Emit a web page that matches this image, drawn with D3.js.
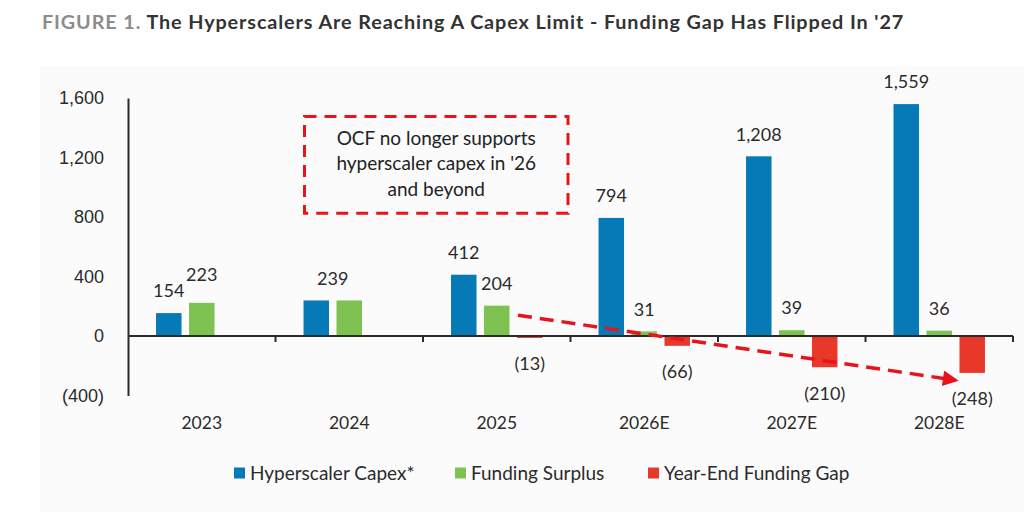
<!DOCTYPE html>
<html>
<head>
<meta charset="utf-8">
<script src="https://cdn.jsdelivr.net/npm/d3@7"></script>
<style>
	html, body { margin: 0; padding: 0; background: #fff; }
	svg { display: block; font-family: Lato, 'Noto Sans', sans-serif; }
</style>
</head>
<body>
<svg id="chart" width="1024" height="512"></svg>
<script>
const years = ['2023', '2024', '2025', '2026E', '2027E', '2028E'];
const seriesNames = ['Hyperscaler Capex*', 'Funding Surplus', 'Year-End Funding Gap'];
const capex = [154, 239, 412, 794, 1208, 1559];
const surplus = [223, 239, 204, 31, 39, 36];
const fundingGap = [null, null, -13, -66, -210, -248];
const yTicks = [-400, 0, 400, 800, 1200, 1600];
const colors = ['#0679b7', '#7ec352', '#e8382a'];
const calloutLines = ['OCF no longer supports', "hyperscaler capex in '26", 'and beyond'];

const svg = d3.select('#chart');
const width = 1024;
const height = 512;
const TEXT = '#2b2b2b';

const fmt = (v) => (v < 0 ? `(${d3.format(',')(-v)})` : d3.format(',')(v));

/** PANEL *******************************************************************/
svg.append('rect').attr('width', width).attr('height', height).attr('fill', '#fff');
svg.append('rect')
	.attr('x', 40).attr('y', 66)
	.attr('width', width - 40).attr('height', height - 66)
	.attr('fill', '#fbfbfb');

/** TITLE *******************************************************************/
const title = svg.append('text')
	.attr('x', 42).attr('y', 29)
	.attr('font-size', 19.8)
	.attr('font-weight', 700)
	.attr('letter-spacing', 0.9);
title.append('tspan').attr('fill', '#8c8c8c').text('FIGURE 1. ');
title.append('tspan').attr('fill', '#333').text("The Hyperscalers Are Reaching A Capex Limit - Funding Gap Has Flipped In '27");

/** SCALES ******************************************************************/
const x0 = d3.scaleBand(years, [128, 1013]);
const x1 = d3.scaleBand([0, 1, 2], [0, x0.bandwidth()])
	.paddingInner(0.227)
	.paddingOuter(0.85);
const y = d3.scaleLinear([-400, 1600], [395.5, 98]);

const rows = years.map((yr, i) => ({
	year: yr,
	values: [capex[i], surplus[i], fundingGap[i]]
}));

/** BARS ********************************************************************/
const groups = svg.append('g')
	.selectAll('g')
	.data(rows)
	.join('g')
	.attr('transform', (d) => `translate(${x0(d.year)},0)`);

groups.selectAll('rect')
	.data((d) => d.values.map((v, k) => ({ v, k })).filter((e) => e.v !== null))
	.join('rect')
	.attr('x', (e) => x1(e.k))
	.attr('width', x1.bandwidth())
	.attr('y', (e) => Math.min(y(e.v), y(0)))
	.attr('height', (e) => Math.abs(y(e.v) - y(0)))
	.attr('fill', (e) => colors[e.k]);

/** DATA LABELS *************************************************************/
groups.each(function (d) {
	const g = d3.select(this);
	const [c, s, f] = d.values;
	const labels = [];
	if (c === s) {
		// equal values share one label over the pair
		labels.push({ x: (x1(0) + x1(1) + x1.bandwidth()) / 2, y: y(c) - 22, v: c });
	} else {
		labels.push({ x: x1(0) + x1.bandwidth() / 2, y: y(c) - 22, v: c });
		labels.push({ x: x1(1) + x1.bandwidth() / 2, y: y(s) - 22, v: s });
		// neighbouring labels at similar heights collide, lift the higher one
		const gap = labels[0].y - labels[1].y;
		if (gap > 0 && gap < 14) labels[1].y -= 6;
	}
	if (f !== null) labels.push({ x: x1(2) + x1.bandwidth() / 2, y: y(f) + 26, v: f });

	g.selectAll('text')
		.data(labels)
		.join('text')
		.attr('x', (l) => l.x)
		.attr('y', (l) => l.y)
		.attr('dy', '0.35em')
		.attr('text-anchor', 'middle')
		.attr('font-size', 18)
		.attr('fill', TEXT)
		.text((l) => fmt(l.v));
});

/** AXES ********************************************************************/
const leftAxis = d3.axisLeft(y)
	.tickValues(yTicks)
	.tickSize(0)
	.tickPadding(24)
	.tickFormat(fmt);
const yAxisG = svg.append('g')
	.attr('transform', `translate(${x0.range()[0]},0)`)
	.call(leftAxis);
yAxisG.select('.domain').attr('stroke', '#2b2b2b').attr('stroke-width', 2);
yAxisG.selectAll('text').attr('font-size', 18).attr('fill', TEXT).attr('font-family', null);

const xAxisG = svg.append('g');
xAxisG.append('line')
	.attr('x1', x0.range()[0]).attr('x2', x0.range()[1])
	.attr('y1', y(0)).attr('y2', y(0))
	.attr('stroke', '#2b2b2b').attr('stroke-width', 2);
xAxisG.selectAll('.tick-x')
	.data(years)
	.join('line')
	.attr('class', 'tick-x')
	.attr('x1', (d) => x0(d) + x0.bandwidth())
	.attr('x2', (d) => x0(d) + x0.bandwidth())
	.attr('y1', y(0)).attr('y2', y(0) + 6)
	.attr('stroke', '#2b2b2b').attr('stroke-width', 2);
xAxisG.selectAll('.label-x')
	.data(years)
	.join('text')
	.attr('class', 'label-x')
	.attr('x', (d) => x0(d) + x0.bandwidth() / 2)
	.attr('y', 423)
	.attr('dy', '0.35em')
	.attr('text-anchor', 'middle')
	.attr('font-size', 17.5)
	.attr('fill', TEXT)
	.text((d) => d);

/** CALLOUT *****************************************************************/
const box = { x0: x0('2024') + 29, x1: x0('2025') + 145, y0: y(1475), y1: y(825) };
svg.append('rect')
	.attr('x', box.x0).attr('y', box.y0)
	.attr('width', box.x1 - box.x0).attr('height', box.y1 - box.y0)
	.attr('fill', 'none')
	.attr('stroke', '#e8141b')
	.attr('stroke-width', 3)
	.attr('stroke-dasharray', '12,8');
svg.append('g')
	.selectAll('text')
	.data(calloutLines)
	.join('text')
	.attr('x', (box.x0 + box.x1) / 2)
	.attr('y', (d, i) => 138 + i * 25.5)
	.attr('dy', '0.35em')
	.attr('text-anchor', 'middle')
	.attr('font-size', 19)
	.attr('fill', '#222')
	.text((d) => d);

/** TREND ARROW *************************************************************/
svg.append('defs').append('marker')
	.attr('id', 'arrow')
	.attr('viewBox', '0 0 10 10')
	.attr('refX', 8).attr('refY', 5)
	.attr('markerWidth', 5).attr('markerHeight', 4.5)
	.attr('orient', 'auto')
	.append('path')
	.attr('d', 'M0,0 L10,5 L0,10 Z')
	.attr('fill', '#e8141b');

const ax1 = x0('2025') + x1(2) + 1;
const ax2 = x0('2028E') + x1(2) - 4;
svg.append('line')
	.attr('x1', ax1).attr('y1', y(140))
	.attr('x2', ax2).attr('y2', y(-297))
	.attr('stroke', '#e8141b')
	.attr('stroke-width', 3.5)
	.attr('stroke-dasharray', '14,8')
	.attr('marker-end', 'url(#arrow)');

/** LEGEND ******************************************************************/
const legendX = [234, 455, 648];
const legend = svg.append('g')
	.selectAll('g')
	.data(seriesNames)
	.join('g')
	.attr('transform', (d, i) => `translate(${legendX[i]},473)`);
legend.append('rect')
	.attr('x', 0).attr('y', -5.5)
	.attr('width', 11).attr('height', 11)
	.attr('fill', (d, i) => colors[i]);
legend.append('text')
	.attr('x', 16).attr('y', 0)
	.attr('dy', '0.35em')
	.attr('font-size', 19)
	.attr('fill', TEXT)
	.text((d) => d);
</script>
</body>
</html>
